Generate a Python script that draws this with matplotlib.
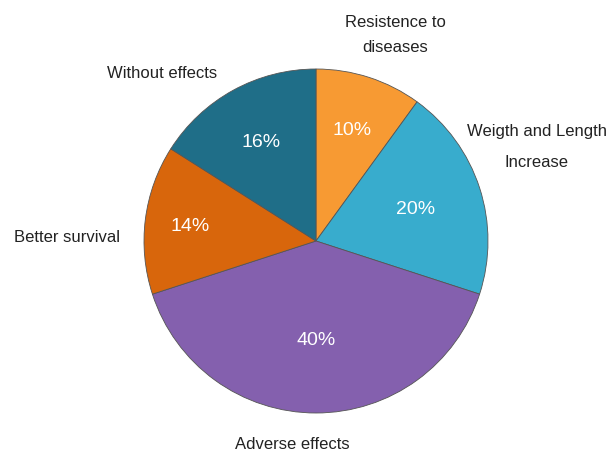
import numpy as np
import matplotlib as mpl
mpl.use('Agg')
import matplotlib.pyplot as plt

labels = ['Resistence to\ndiseases', 'Weigth and Length\nIncrease', 'Adverse effects',
          'Better survival', 'Without effects']
values = [10, 20, 40, 14, 16]
colors = ['#F79A33', '#38ACCD', '#8460AE', '#D8660C', '#1F6E88']

# outer label spots in pixels (x, y from top)
label_pos = [(395, 35), (537, 147), (292, 445), (67, 238), (162, 73)]
label_spacing = [1.85, 2.35, 1.2, 1.2, 1.2]
# how far out each percent label sits (fraction of radius)
pct_dist = [0.68, 0.61, 0.57, 0.74, 0.66]

plt.rcParams['font.family'] = ['Liberation Sans', 'DejaVu Sans']

cx, cy, r = 316, 456 - 242, 172

fig = plt.figure(figsize=(6.13, 4.56), dpi=100)
ax = fig.add_axes([0, 0, 1, 1])

wedges, texts = ax.pie(values, colors=colors, startangle=90, counterclock=False,
                       center=(cx, cy), radius=r,
                       wedgeprops=dict(edgecolor='#555555', linewidth=0.6))
ax.set_xlim(0, 613)
ax.set_ylim(0, 456)
ax.set_aspect('auto')
ax.axis('off')

for w, v, d in zip(wedges, values, pct_dist):
    ang = np.deg2rad((w.theta1 + w.theta2) / 2)
    ax.text(cx + d * r * np.cos(ang), cy + d * r * np.sin(ang), f'{v}%',
            ha='center', va='center', color='white', fontsize=14)

for lab, (x, y), ls in zip(labels, label_pos, label_spacing):
    ax.text(x, 456 - y, lab, ha='center', va='center', fontsize=12, color='#222222',
            linespacing=ls)

fig.savefig('out.png')
